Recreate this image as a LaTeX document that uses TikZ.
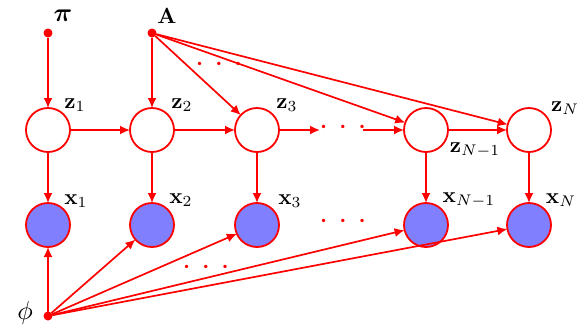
\documentclass[tikz,border=0pt]{standalone}
\usepackage{amsmath,bm}
\usetikzlibrary{arrows.meta}
\definecolor{nodeblue}{RGB}{128,128,255}
\newcommand{\mydotrow}{$\bm{\cdot}\,\,\bm{\cdot}\,\,\bm{\cdot}$}
\begin{document}
\begin{tikzpicture}[x=1pt,y=-1pt,
  every node/.style={inner sep=0pt,outer sep=0pt},
  dotnode/.style={circle,fill=red,minimum size=9pt},
  latent/.style={circle,draw=red,line width=1.8pt,fill=white,minimum size=44pt},
  observed/.style={circle,draw=red,line width=1.8pt,fill=nodeblue,minimum size=44pt},
  lab/.style={scale=2.2},
  biglab/.style={scale=2.6},
  dotslab/.style={text=red,scale=2.2},
  conn/.style={red,line width=1.7pt,-{Latex[length=10pt,width=9pt]}},
  plain/.style={red,line width=1.7pt}]
\useasboundingbox (0,0) rectangle (586,333);
% parameter dots
\node[dotnode] (pi) at (48,33) {};
\node[dotnode] (A) at (152,33) {};
\node[dotnode] (phi) at (48,316) {};
% latent nodes
\node[latent] (z1) at (48,130) {};
\node[latent] (z2) at (152,130) {};
\node[latent] (z3) at (257,130) {};
\node[latent] (zn1) at (426,130) {};
\node[latent] (zn) at (529,130) {};
% observed nodes
\node[observed] (x1) at (48,225) {};
\node[observed] (x2) at (152,225) {};
\node[observed] (x3) at (257,225) {};
\node[observed] (xn1) at (426,225) {};
\node[observed] (xn) at (529,225) {};
% labels
\node[biglab] (lpi) at (63,16) {$\bm{\pi}$};
\node[lab] (lA) at (167,16) {$\mathbf{A}$};
\node[biglab] (lphi) at (25,313) {$\phi$};
\node[lab] (lz1) at (75,105) {$\mathbf{z}_1$};
\node[lab] (lz2) at (182,105) {$\mathbf{z}_2$};
\node[lab] (lz3) at (287,105) {$\mathbf{z}_3$};
\node[lab] (lzn) at (565,108) {$\mathbf{z}_N$};
\node[lab] (lzn1) at (475,150) {$\mathbf{z}_{N-1}$};
\node[lab] (lx1) at (76,201) {$\mathbf{x}_1$};
\node[lab] (lx2) at (181,200) {$\mathbf{x}_2$};
\node[lab] (lx3) at (290,201) {$\mathbf{x}_3$};
\node[lab] (lxn1) at (469,200) {$\mathbf{x}_{N-1}$};
\node[lab] (lxn) at (561,200) {$\mathbf{x}_N$};
% ellipses
\node[dotslab] (d1) at (219,64) {\mydotrow};
\node[dotslab] (d2) at (343,127) {\mydotrow};
\node[dotslab] (d3) at (343,221) {\mydotrow};
\node[dotslab] (d4) at (206,267) {\mydotrow};
% chain coordinates
\coordinate (c1) at (320,130);
\coordinate (c2) at (363,130);
% connectors
\draw[conn] (pi) -- (z1);
\draw[conn] (A) -- (z2);
\draw[conn] (A) -- (z3);
\draw[conn] (A) -- (zn1);
\draw[conn] (A) -- (zn);
\draw[conn] (z1) -- (z2);
\draw[conn] (z2) -- (z3);
\draw[conn] (z3) -- (c1);
\draw[conn] (c2) -- (zn1);
\draw[conn] (zn1) -- (zn);
\draw[conn] (z1) -- (x1);
\draw[conn] (z2) -- (x2);
\draw[conn] (z3) -- (x3);
\draw[conn] (zn1) -- (xn1);
\draw[conn] (zn) -- (xn);
\draw[conn] (phi) -- (x1);
\draw[conn] (phi) -- (x2);
\draw[conn] (phi) -- (x3);
\draw[conn] (phi) -- (xn1);
\draw[conn] (phi) -- (xn);
\end{tikzpicture}
\end{document}
